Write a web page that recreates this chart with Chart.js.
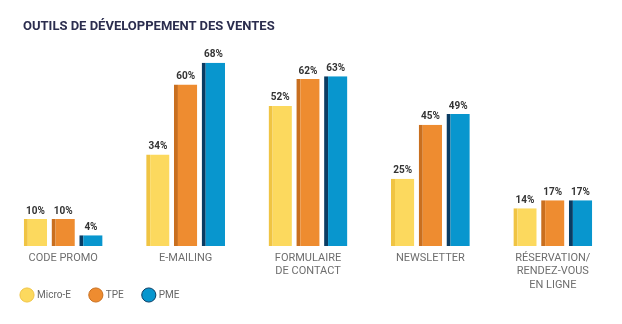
<!DOCTYPE html>
<html>
<head>
<meta charset="utf-8">
<script src="https://cdn.jsdelivr.net/npm/chart.js@4.4.0/dist/chart.umd.min.js"></script>
<style>
  body { margin: 0; background: #fff; }
  #wrap { position: relative; width: 622px; height: 324px; }
  #titre {
    position: absolute; left: 23px; top: 18px; margin: 0;
    font: bold 13px Roboto, sans-serif; color: #2b2d4e;
  }
</style>
</head>
<body>
<div id="wrap">
  <h1 id="titre">OUTILS DE DÉVELOPPEMENT DES VENTES</h1>
  <canvas id="myChart" width="622" height="324"></canvas>
</div>
<script>
var categories = [
  ["CODE PROMO"],
  ["E-MAILING"],
  ["FORMULAIRE", "DE CONTACT"],
  ["NEWSLETTER"],
  ["RÉSERVATION/", "RENDEZ-VOUS", "EN LIGNE"]
];
var microE = [10, 34, 52, 25, 14];
var tpe = [10, 60, 62, 45, 17];
var pme = [4, 68, 63, 49, 17];

// front face / darker side face
var barColors = ["#fcd95e", "#ee8c30", "#0896ce"];
var sideColors = ["#f0c443", "#c96f1f", "#0a3c63"];

// writes the percentage above each bar
var valueLabels = {
  id: "valueLabels",
  afterDatasetsDraw: function(chart) {
    var ctx = chart.ctx;
    ctx.save();
    ctx.font = "bold 10px Roboto, sans-serif";
    ctx.fillStyle = "#333333";
    ctx.textAlign = "center";
    ctx.textBaseline = "bottom";
    chart.data.datasets.forEach(function(ds, i) {
      chart.getDatasetMeta(i).data.forEach(function(bar, j) {
        ctx.fillText(ds.data[j] + "%", bar.x, bar.y - 3);
      });
    });
    ctx.restore();
  }
};

// the x axis is kept short, so let its long labels run down beside the legend
var roomForLabels = {
  id: "roomForLabels",
  afterLayout: function(chart) {
    chart.scales.x.bottom = chart.height;
  }
};

function makeSet(label, values, i) {
  return {
    label: label,
    data: values,
    backgroundColor: barColors[i],
    borderColor: sideColors[i],
    borderWidth: { left: 4, top: 0, right: 0, bottom: 0 },
    borderSkipped: false,
    categoryPercentage: 0.68,
    barPercentage: 0.84
  };
}

new Chart("myChart", {
  type: "bar",
  data: {
    labels: categories,
    datasets: [
      makeSet("Micro-E", microE, 0),
      makeSet("TPE", tpe, 1),
      makeSet("PME", pme, 2)
    ]
  },
  options: {
    responsive: false,
    animation: false,
    layout: { padding: { left: 2, right: 8, top: 44, bottom: 14 } },
    scales: {
      x: {
        grid: { display: false, drawTicks: false },
        border: { display: false },
        ticks: {
          color: "#6e6e6e",
          font: { family: "Roboto", size: 11, lineHeight: 1.25 },
          padding: 5,
          maxRotation: 0,
          autoSkip: false
        },
        afterFit: function(scale) { scale.height = 24; }
      },
      y: {
        display: false,
        min: 0,
        max: 75
      }
    },
    plugins: {
      legend: {
        position: "bottom",
        align: "start",
        labels: {
          usePointStyle: true,
          pointStyle: "circle",
          boxWidth: 10,
          boxHeight: 10,
          padding: 20,
          color: "#666666",
          font: { family: "Roboto", size: 10 }
        }
      },
      tooltip: { enabled: false }
    }
  },
  plugins: [valueLabels, roomForLabels]
});
</script>
</body>
</html>
